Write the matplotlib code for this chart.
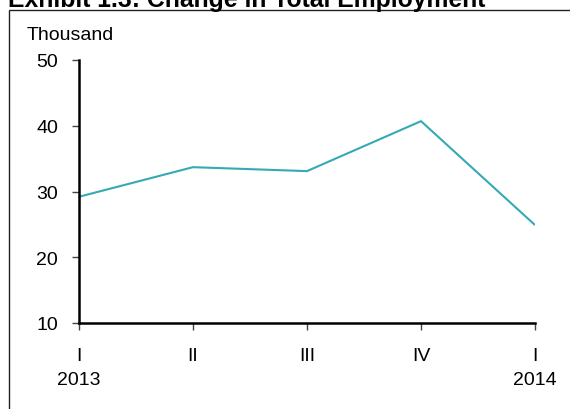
import matplotlib
matplotlib.use("Agg")
import matplotlib.pyplot as plt
from matplotlib.patches import Rectangle

plt.rcParams['font.family'] = ['Liberation Sans', 'DejaVu Sans']

# Quarterly change in total employment (thousand)
quarters = ["I\n2013", "II", "III", "IV", "I\n2014"]
change = [29.2, 33.7, 33.1, 40.7, 24.9]
y_ticks = [10, 20, 30, 40, 50]

W, H = 570, 410
fig = plt.figure(figsize=(W / 100, H / 100), dpi=100)

# frame around the chart, open on the right and bottom
fig.add_artist(Rectangle((9 / W, -0.05), 1.0, 1 - 11 / H + 0.05,
                         transform=fig.transFigure, fill=False,
                         edgecolor='#222222', linewidth=1.0))

fig.text(8 / W, 1 - 7 / H, "Exhibit 1.3: Change in Total Employment",
         fontsize=17.8, fontweight='bold', va='baseline', ha='left')

ax = fig.add_axes([79 / W, 1 - 324 / H, (535 - 79) / W, (324 - 61) / H])
x = list(range(len(quarters)))
ax.plot(x, change, color='#35A9B5', linewidth=1.5, solid_capstyle='butt')

ax.set_xlim(0, len(quarters) - 1)
ax.set_ylim(10, 50)
ax.set_yticks(y_ticks)
ax.set_xticks(x)
ax.set_xticklabels(quarters, fontsize=14, linespacing=1.55)
ax.tick_params(axis='y', labelsize=14, length=5, width=1, color='#444444',
               pad=10)
ax.tick_params(axis='x', length=5, width=1, color='#444444', pad=12)
for lbl in ax.get_xticklabels():
    lbl.set_verticalalignment('top')

for side in ('top', 'right'):
    ax.spines[side].set_visible(False)
for side in ('left', 'bottom'):
    ax.spines[side].set_linewidth(1.8)
    ax.spines[side].set_color('black')
ax.patch.set_alpha(0)

fig.text(27 / W, 1 - 35 / H, "Thousand", fontsize=14, va='center', ha='left')

fig.savefig("out.png", dpi=100)
